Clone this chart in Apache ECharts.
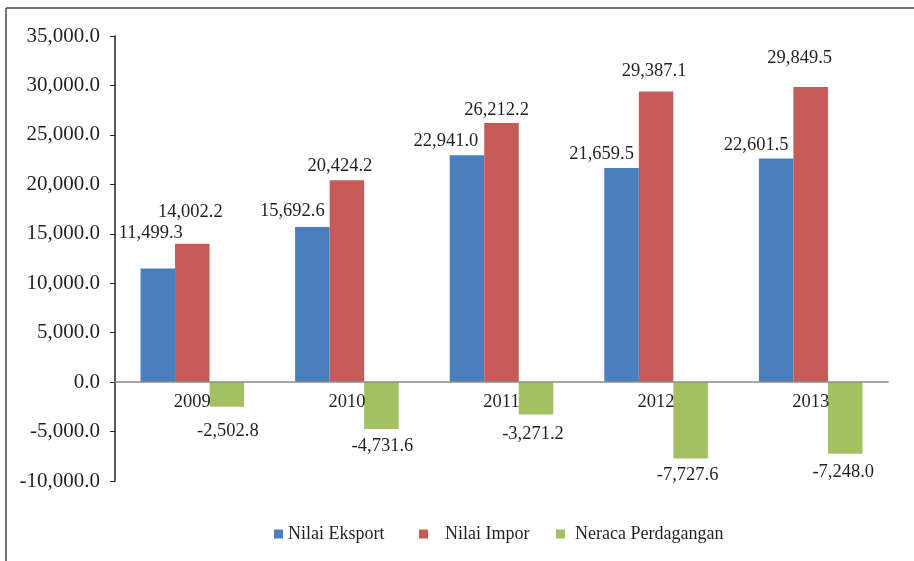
<!DOCTYPE html>
<html>
<head>
<meta charset="utf-8">
<script src="https://cdn.jsdelivr.net/npm/echarts@6/dist/echarts.min.js"></script>
<style>
  html, body { margin: 0; padding: 0; background: #fff; }
  #chart { width: 914px; height: 561px; }
</style>
</head>
<body>
<div id="chart"></div>
<script>
// data
var years = ["2009", "2010", "2011", "2012", "2013"];
var eksport = [11499.3, 15692.6, 22941.0, 21659.5, 22601.5];
var impor = [14002.2, 20424.2, 26212.2, 29387.1, 29849.5];
var neraca = [-2502.8, -4731.6, -3271.2, -7727.6, -7248.0];

// label nudges (label positions in the original are hand placed)
var eksportOffsets = [[-7, -21], [-20, -1], [-21, 0], [-20, 1], [-20, 1]];
var imporOffsets = [[-2, -17], [-7, 1], [-5, 2], [-2, -6], [-11, -14]];
var neracaOffsets = [[1, 10], [1, 3], [-3, 5], [-3, 2], [-2, 4]];

var font = "Liberation Serif";
var textColor = "#231f20";

// grid geometry: zero line sits 35/45 of the way down the plot
var gridTop = 36, gridHeight = 445;
var axisShift = -(gridHeight * 10 / 45);

function fmt(v) {
  return v.toLocaleString("en-US", { minimumFractionDigits: 1, maximumFractionDigits: 1 });
}

function withOffsets(values, offsets) {
  return values.map(function (v, i) {
    return { value: v, label: { offset: offsets[i] } };
  });
}

var myChart = echarts.init(document.getElementById("chart"));

var labelBase = {
  show: true,
  fontFamily: font,
  fontSize: 18.5,
  color: textColor,
  formatter: function (p) { return fmt(p.value); }
};

var legendText = { fontFamily: font, fontSize: 18, color: textColor };

var option = {
  animation: false,
  textStyle: { fontFamily: font },
  graphic: [
    { type: "line", shape: { x1: 6, y1: 8, x2: 914, y2: 8 }, style: { stroke: "#444", lineWidth: 1.5 } },
    { type: "line", shape: { x1: 6, y1: 8, x2: 6, y2: 561 }, style: { stroke: "#444", lineWidth: 1.5 } }
  ],
  grid: { left: 115, top: gridTop, width: 773, height: gridHeight },
  legend: [
    {
      data: ["Nilai Eksport"], left: 269, top: 520,
      itemWidth: 9, itemHeight: 9, icon: "rect",
      textStyle: legendText
    },
    {
      data: ["Nilai Impor"], left: 414, top: 520,
      itemWidth: 9, itemHeight: 9, icon: "rect",
      textStyle: Object.assign({ padding: [0, 0, 0, 12] }, legendText)
    },
    {
      data: ["Neraca Perdagangan"], left: 551, top: 520,
      itemWidth: 9, itemHeight: 9, icon: "rect",
      textStyle: Object.assign({ padding: [0, 0, 0, 5] }, legendText)
    }
  ],
  xAxis: {
    type: "category",
    data: years,
    z: 10,
    offset: axisShift,
    axisLine: { onZero: false, lineStyle: { color: "#8c8c8c", width: 1.5 } },
    axisTick: { length: 6, lineStyle: { color: "#333" } },
    axisLabel: { fontFamily: font, fontSize: 18.5, color: textColor, margin: 11 }
  },
  yAxis: {
    type: "value",
    min: -10000,
    max: 35000,
    interval: 5000,
    splitLine: { show: false },
    axisLine: { show: true, lineStyle: { color: "#222", width: 1.5 } },
    axisTick: { show: true, length: 5, lineStyle: { color: "#222" } },
    axisLabel: {
      fontFamily: font, fontSize: 21, color: textColor, margin: 15,
      formatter: function (v) { return fmt(v); }
    }
  },
  series: [
    {
      name: "Nilai Eksport",
      type: "bar",
      barGap: "0%",
      barCategoryGap: "33%",
      itemStyle: { color: "#4a7fbe" },
      label: Object.assign({ position: "top" }, labelBase),
      data: withOffsets(eksport, eksportOffsets)
    },
    {
      name: "Nilai Impor",
      type: "bar",
      itemStyle: { color: "#c75b58" },
      label: Object.assign({ position: "top" }, labelBase),
      data: withOffsets(impor, imporOffsets)
    },
    {
      name: "Neraca Perdagangan",
      type: "bar",
      itemStyle: { color: "#a3c163" },
      label: Object.assign({ position: "bottom" }, labelBase),
      data: withOffsets(neraca, neracaOffsets)
    }
  ]
};

myChart.setOption(option);
</script>
</body>
</html>
